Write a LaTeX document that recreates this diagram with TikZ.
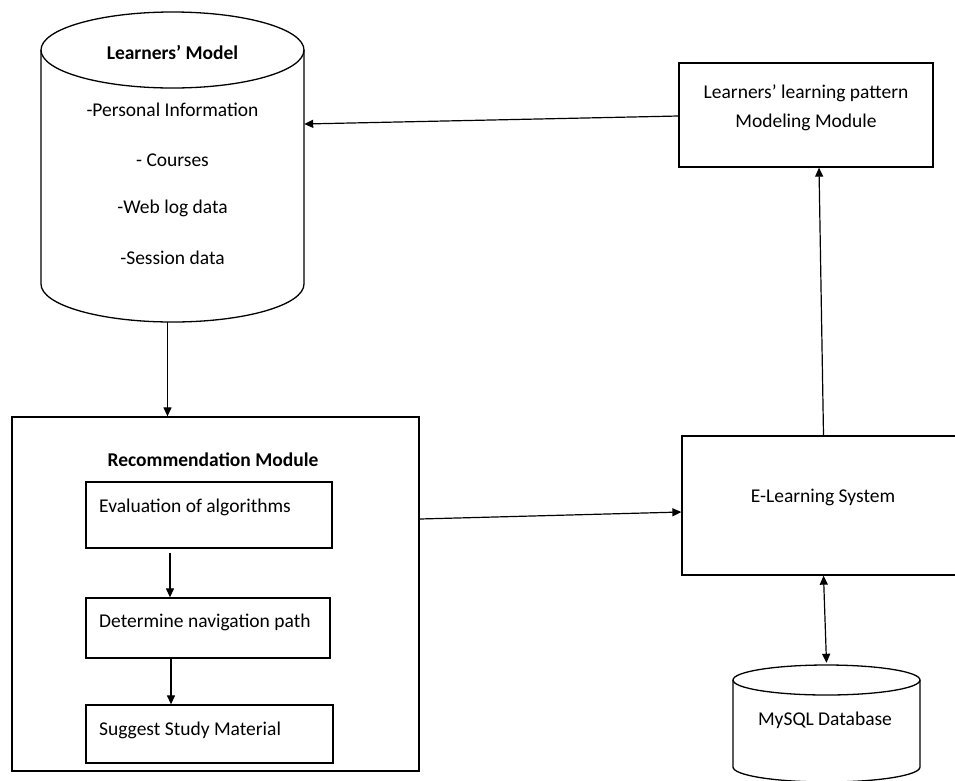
\documentclass[tikz,border=0pt]{standalone}
\usepackage{fontspec}
\setmainfont{Carlito}
\usetikzlibrary{arrows.meta,calc}
\tikzset{
  box/.style={draw, line width=1.3pt, inner sep=0pt},
  ghost/.style={inner sep=0pt},
  txt/.style={inner sep=0pt, font=\fontsize{19.5}{29}\selectfont},
  btxt/.style={inner sep=0pt, font=\fontsize{19.5}{29}\selectfont\bfseries},
  arr/.style={line width=1.2pt, -{Triangle[length=9pt,width=8pt]}},
  darr/.style={line width=1.2pt, {Triangle[length=9pt,width=8pt]}-{Triangle[length=9pt,width=8pt]}},
  cyl/.style={line width=1.3pt}
}
\begin{document}
\begin{tikzpicture}[x=1pt,y=1pt]
\useasboundingbox (0,0) rectangle (955,-780);
\clip (0,0) rectangle (955,-780);
\fill[white] (0,0) rectangle (955,-780);

% Learners' Model cylinder
\node[ghost, minimum width=263pt, minimum height=310pt] (lm) at (172.5,-167) {};
\draw[cyl] (172.5,-50) ellipse [x radius=131.5, y radius=38];
\draw[cyl] (41,-50) -- (41,-284) arc[start angle=180, end angle=360, x radius=131.5, y radius=38] -- (304,-50);
\node[btxt] (lmt) at (172.5,-52) {Learners’ Model};
\node[txt] (lm1) at (172.5,-110) {-Personal Information};
\node[txt] (lm2) at (172.5,-160) {- Courses};
\node[txt] (lm3) at (172.5,-208) {-Web log data};
\node[txt] (lm4) at (172.5,-258) {-Session data};

% Pattern modeling module
\node[box, minimum width=254pt, minimum height=104pt] (pat) at (806,-115) {};
\node[txt, align=center] (patt) at (806,-107.5) {Learners’ learning pattern\\Modeling Module};

% Recommendation module
\node[box, minimum width=407pt, minimum height=354pt] (rec) at (215.5,-594) {};
\node[btxt] (rect) at (213,-460) {Recommendation Module};
\node[box, minimum width=246pt, minimum height=66pt] (b1) at (209,-515) {};
\node[txt, anchor=west] (b1t) at (99,-507) {Evaluation of algorithms};
\node[box, minimum width=244pt, minimum height=60pt] (b2) at (208,-628) {};
\node[txt, anchor=west] (b2t) at (99,-622) {Determine navigation path};
\node[box, minimum width=247pt, minimum height=58pt] (b3) at (209.5,-734) {};
\node[txt, anchor=west] (b3t) at (99,-730) {Suggest Study Material};

% E-Learning system
\node[box, minimum width=283pt, minimum height=139pt] (el) at (823.5,-505.5) {};
\node[txt] (elt) at (823,-497) {E-Learning System};

% MySQL database
\node[ghost, minimum width=187pt, minimum height=117pt] (db) at (826.5,-723.5) {};
\draw[cyl] (826.5,-680) ellipse [x radius=93.5, y radius=15];
\draw[cyl] (733,-680) -- (733,-767) arc[start angle=180, end angle=360, x radius=93.5, y radius=15] -- (920,-680);
\node[txt] (dbt) at (825,-720) {MySQL Database};

% Connectors
\draw[arr] ([xshift=-5pt]lm.south) -- ([xshift=-5pt]lm.south |- rec.north);
\draw[arr] ([xshift=-39pt,yshift=-4pt]b1.south) -- ([xshift=-39pt]b1.south |- b2.north);
\draw[arr] ([xshift=-37pt]b2.south) -- ([xshift=-37pt]b2.south |- b3.north);
\draw[arr] ([yshift=75pt]rec.east) -- ([yshift=-6.5pt]el.west);
\draw[arr] (el.north) -- ([xshift=13pt]pat.south);
\draw[arr] ([yshift=-1pt]pat.west) -- ([yshift=43pt]lm.east);
\draw[darr] (el.south) -- ([yshift=2pt]db.north);
\end{tikzpicture}
\end{document}
